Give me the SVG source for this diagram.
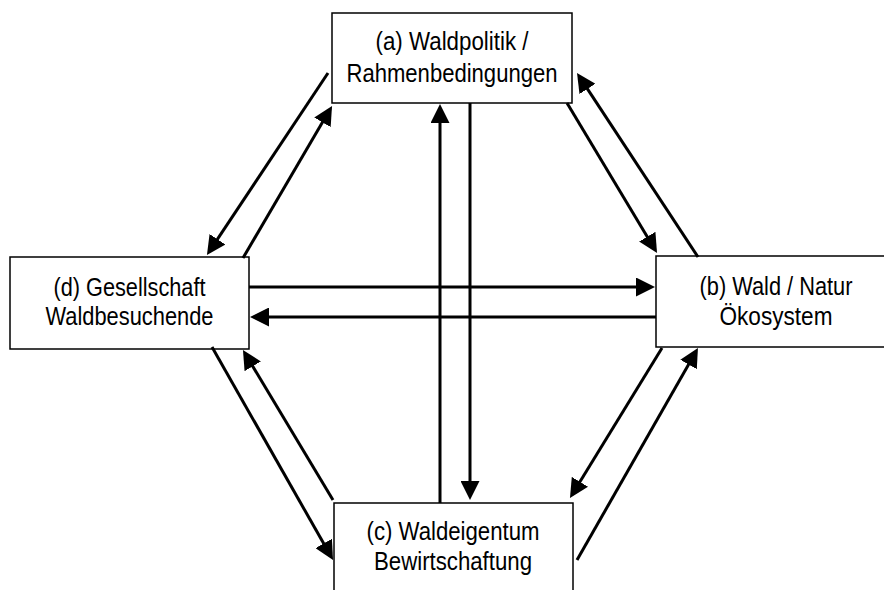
<svg xmlns="http://www.w3.org/2000/svg" width="884" height="590" viewBox="0 0 884 590">
<style>
.box{fill:#fff;stroke:#000;stroke-width:1.5}
.lbl{font-family:"Liberation Sans",Arial,sans-serif;font-size:25px;fill:#000;text-anchor:middle}
.con line{stroke:#000;stroke-width:3;marker-end:url(#ah)}
</style>
<defs>
<marker id="ah" markerUnits="userSpaceOnUse" viewBox="0 0 19 19" refX="9" refY="9.5" markerWidth="19" markerHeight="19" orient="auto">
<path d="M0,0 L19,9.5 L0,19 z" fill="#000"/>
</marker>
</defs>
<rect width="884" height="590" fill="#fff"/>
<g id="node-a">
<rect class="box" x="332" y="13" width="240" height="90"/>
<text class="lbl" x="452" y="50" textLength="153" lengthAdjust="spacingAndGlyphs">(a) Waldpolitik /</text>
<text class="lbl" x="452" y="82" textLength="211" lengthAdjust="spacingAndGlyphs">Rahmenbedingungen</text>
</g>
<g id="node-b">
<rect class="box" x="656" y="256" width="240" height="91"/>
<text class="lbl" x="776" y="295" textLength="153" lengthAdjust="spacingAndGlyphs">(b) Wald / Natur</text>
<text class="lbl" x="776" y="325" textLength="113" lengthAdjust="spacingAndGlyphs">Ökosystem</text>
</g>
<g id="node-c">
<rect class="box" x="334" y="503" width="239" height="100"/>
<text class="lbl" x="453" y="540" textLength="173" lengthAdjust="spacingAndGlyphs">(c) Waldeigentum</text>
<text class="lbl" x="453" y="570" textLength="158" lengthAdjust="spacingAndGlyphs">Bewirtschaftung</text>
</g>
<g id="node-d">
<rect class="box" x="10" y="257" width="239" height="92"/>
<text class="lbl" x="129.5" y="296" textLength="152" lengthAdjust="spacingAndGlyphs">(d) Gesellschaft</text>
<text class="lbl" x="129.5" y="325" textLength="168" lengthAdjust="spacingAndGlyphs">Waldbesuchende</text>
</g>
<g id="connectors" class="con">
<line x1="440" y1="503" x2="440" y2="114"/>
<line x1="470" y1="103" x2="470" y2="490"/>
<line x1="249" y1="287" x2="645" y2="287"/>
<line x1="656" y1="317" x2="260" y2="317"/>
<line x1="328" y1="73" x2="212.5" y2="246.7"/>
<line x1="243" y1="258" x2="327" y2="114.6"/>
<line x1="698" y1="257" x2="582.5" y2="81.4"/>
<line x1="567" y1="103" x2="651.9" y2="244.4"/>
<line x1="212" y1="347" x2="328.1" y2="551.3"/>
<line x1="333" y1="500" x2="248.1" y2="358.6"/>
<line x1="662" y1="348" x2="575.2" y2="489.5"/>
<line x1="577" y1="560" x2="693" y2="356.7"/>
</g>
</svg>
